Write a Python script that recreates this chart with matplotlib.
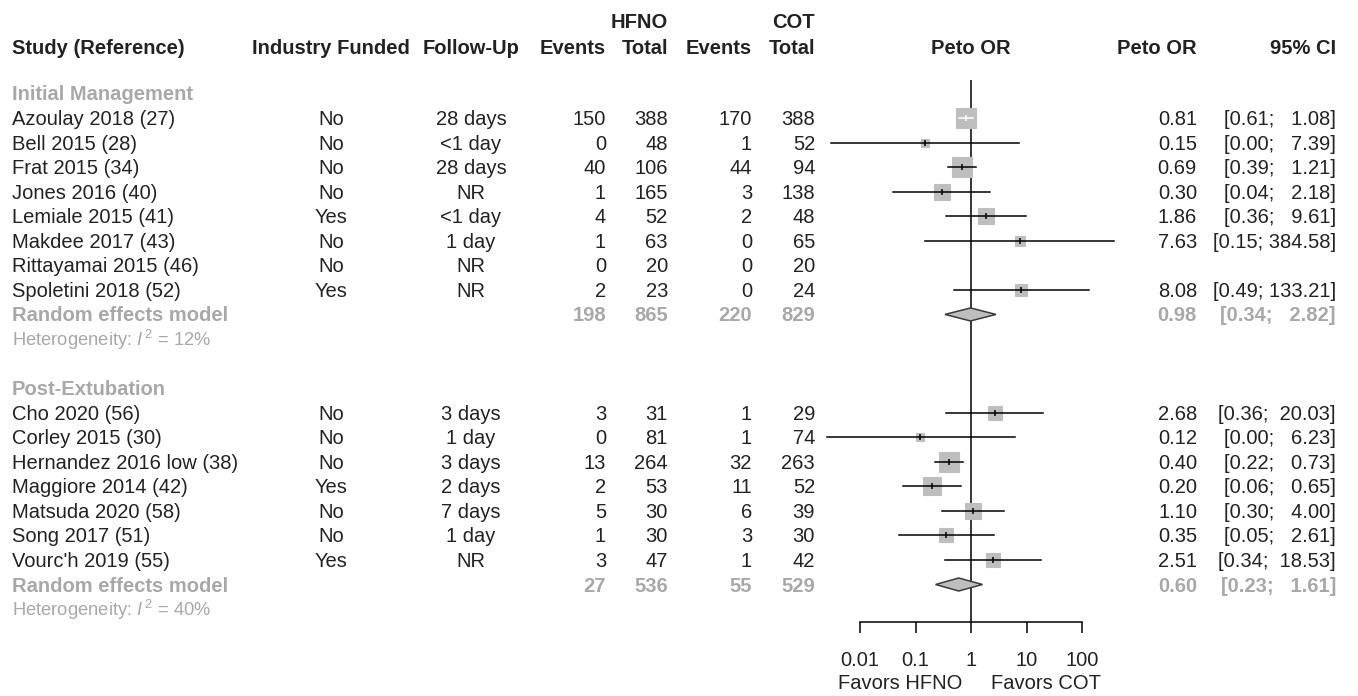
import numpy as np
import matplotlib.pyplot as plt
from matplotlib.patches import Polygon

plt.rcParams['font.family'] = ['Liberation Sans', 'DejaVu Sans']
plt.rcParams['mathtext.fontset'] = 'custom'
plt.rcParams['mathtext.rm'] = 'Liberation Sans'
plt.rcParams['mathtext.it'] = 'Liberation Sans:italic'

# ---- data ----
groups = ["Initial Management", "Post-Extubation"]

studies1 = ["Azoulay 2018 (27)", "Bell 2015 (28)", "Frat 2015 (34)", "Jones 2016 (40)",
            "Lemiale 2015 (41)", "Makdee 2017 (43)", "Rittayamai 2015 (46)", "Spoletini 2018 (52)"]
funded1 = ["No", "No", "No", "No", "Yes", "No", "No", "Yes"]
follow1 = ["28 days", "<1 day", "28 days", "NR", "<1 day", "1 day", "NR", "NR"]
ev_h1 = [150, 0, 40, 1, 4, 1, 0, 2]
tot_h1 = [388, 48, 106, 165, 52, 63, 20, 23]
ev_c1 = [170, 1, 44, 3, 2, 0, 0, 0]
tot_c1 = [388, 52, 94, 138, 48, 65, 20, 24]
or1 = [0.81, 0.15, 0.69, 0.30, 1.86, 7.63, np.nan, 8.08]
lo1 = [0.61, 0.003, 0.39, 0.04, 0.36, 0.15, np.nan, 0.49]
hi1 = [1.08, 7.39, 1.21, 2.18, 9.61, 384.58, np.nan, 133.21]
w1 = [26.1, 4.2, 23.6, 14.7, 16.7, 5.3, 0, 9.4]

studies2 = ["Cho 2020 (56)", "Corley 2015 (30)", "Hernandez 2016 low (38)", "Maggiore 2014 (42)",
            "Matsuda 2020 (58)", "Song 2017 (51)", "Vourc'h 2019 (55)"]
funded2 = ["No", "No", "No", "Yes", "No", "No", "Yes"]
follow2 = ["3 days", "1 day", "3 days", "2 days", "7 days", "1 day", "NR"]
ev_h2 = [3, 0, 13, 2, 5, 1, 3]
tot_h2 = [31, 81, 264, 53, 30, 30, 47]
ev_c2 = [1, 1, 32, 11, 6, 3, 1]
tot_c2 = [29, 74, 263, 52, 39, 30, 42]
or2 = [2.68, 0.12, 0.40, 0.20, 1.10, 0.35, 2.51]
lo2 = [0.36, 0.0025, 0.22, 0.06, 0.30, 0.05, 0.34]
hi2 = [20.03, 6.23, 0.73, 0.65, 4.00, 2.61, 18.53]
w2 = [11.2, 4.3, 24.0, 19.2, 17.0, 13.0, 11.2]

# random effects summaries per group
sum_ev_h = [198, 27]
sum_tot_h = [865, 536]
sum_ev_c = [220, 55]
sum_tot_c = [829, 529]
sum_or = [0.98, 0.60]
sum_lo = [0.34, 0.23]
sum_hi = [2.82, 1.61]
i2 = [12, 40]

ticks = [0.01, 0.1, 1, 10, 100]

# ---- layout ----
W, H = 1358, 696
x_ref, decade = 971, 55.5      # pixel of OR = 1, pixels per decade
y0, dy = 93.5, 24.55
ink = '#222222'
grey = '#a8a8a8'
fs = 14.5
base = 7   # baseline offset from row centre

fig = plt.figure(figsize=(W / 100, H / 100), dpi=100)
tab = fig.add_axes([0, 0, 1, 1])
tab.set_xlim(0, W)
tab.set_ylim(H, 0)
tab.axis('off')

ax = fig.add_axes([0, 0, 1, 1])
ax.patch.set_visible(False)
ax.set_xscale('log')
ax.set_xlim(10 ** (-x_ref / decade), 10 ** ((W - x_ref) / decade))
ax.set_ylim(H, 0)
for s in ['top', 'left', 'right']:
    ax.spines[s].set_visible(False)
ax.spines['bottom'].set_position(('data', 622))
ax.spines['bottom'].set_bounds(ticks[0], ticks[-1])
ax.spines['bottom'].set_linewidth(1.1)
ax.set_yticks([])
ax.set_xticks(ticks)
ax.set_xticklabels(["0.01", "0.1", "1", "10", "100"])
ax.xaxis.set_minor_locator(plt.NullLocator())
ax.tick_params(axis='x', direction='out', length=8, width=1.1, pad=13,
               labelsize=fs, labelcolor=ink)


def txt(x, y, s, ha='left', color=ink, bold=False, size=fs):
    tab.text(x, y + base, s, ha=ha, va='baseline', color=color, fontsize=size,
             fontweight='bold' if bold else 'normal')


# header
txt(668, 21, "HFNO", ha='right', bold=True)
txt(815, 21, "COT", ha='right', bold=True)
header = [(12, "Study (Reference)", 'left'), (331, "Industry Funded", 'center'),
          (471, "Follow-Up", 'center'), (606, "Events", 'right'), (668, "Total", 'right'),
          (752, "Events", 'right'), (815, "Total", 'right'), (x_ref, "Peto OR", 'center'),
          (1197, "Peto OR", 'right'), (1336, "95% CI", 'right')]
for x, s, ha in header:
    txt(x, 47, s, ha=ha, bold=True)

ax.vlines(1, 80, 622, color='black', lw=1.1, zorder=1)


def ci_text(lo, hi):
    return f"[{lo:.2f}; {hi:6.2f}]"


def draw_group(r0, g, names, funded, follow, eh, th, ec, tc, ors, los, his, ws):
    ys = y0 + dy * (r0 + np.arange(len(names) + 3))
    txt(12, ys[0], groups[g], color=grey, bold=True)
    for i in range(len(names)):
        y = ys[i + 1]
        txt(12, y, names[i])
        txt(331, y, funded[i], ha='center')
        txt(471, y, follow[i], ha='center')
        txt(606, y, str(eh[i]), ha='right')
        txt(668, y, str(th[i]), ha='right')
        txt(752, y, str(ec[i]), ha='right')
        txt(815, y, str(tc[i]), ha='right')
        if np.isnan(ors[i]):
            continue
        txt(1197, y, f"{ors[i]:.2f}", ha='right')
        txt(1336, y, ci_text(los[i], his[i]), ha='right')
        side = 4.1 * np.sqrt(ws[i])
        inside = (decade * np.log10(his[i] / ors[i]) < side / 2 and
                  decade * np.log10(ors[i] / los[i]) < side / 2)
        lc = 'white' if inside else 'black'
        ax.plot(ors[i], y, marker='s', ms=side * 0.72, color='#bebebe', mec='#bebebe',
                mew=0.8, zorder=2)
        ax.plot([los[i], his[i]], [y, y], color=lc, lw=1.1, zorder=3)
        ax.plot(ors[i], y, marker='|', ms=5, mew=1.1, color=lc, zorder=3)
    # random effects model
    y = ys[len(names) + 1]
    txt(12, y, "Random effects model", color=grey, bold=True)
    txt(606, y, str(sum_ev_h[g]), ha='right', color=grey, bold=True)
    txt(668, y, str(sum_tot_h[g]), ha='right', color=grey, bold=True)
    txt(752, y, str(sum_ev_c[g]), ha='right', color=grey, bold=True)
    txt(815, y, str(sum_tot_c[g]), ha='right', color=grey, bold=True)
    txt(1197, y, f"{sum_or[g]:.2f}", ha='right', color=grey, bold=True)
    txt(1336, y, ci_text(sum_lo[g], sum_hi[g]), ha='right', color=grey, bold=True)
    dia = Polygon([(sum_lo[g], y), (sum_or[g], y - 6.5), (sum_hi[g], y), (sum_or[g], y + 6.5)],
                  closed=True, fc='#bebebe', ec='#3a3a3a', lw=1.1, zorder=4)
    ax.add_patch(dia)
    y = ys[len(names) + 2]
    txt(12, y, f"Heterogeneity: $I^{{\\,2}}$ = {i2[g]}%", color=grey, size=13.2)


draw_group(0, 0, studies1, funded1, follow1, ev_h1, tot_h1, ev_c1, tot_c1, or1, lo1, hi1, w1)
draw_group(12, 1, studies2, funded2, follow2, ev_h2, tot_h2, ev_c2, tot_c2, or2, lo2, hi2, w2)

# direction labels
txt(900, 682, "Favors HFNO", ha='center')
txt(1046, 682, "Favors COT", ha='center')

fig.savefig('out.png', dpi=100)
